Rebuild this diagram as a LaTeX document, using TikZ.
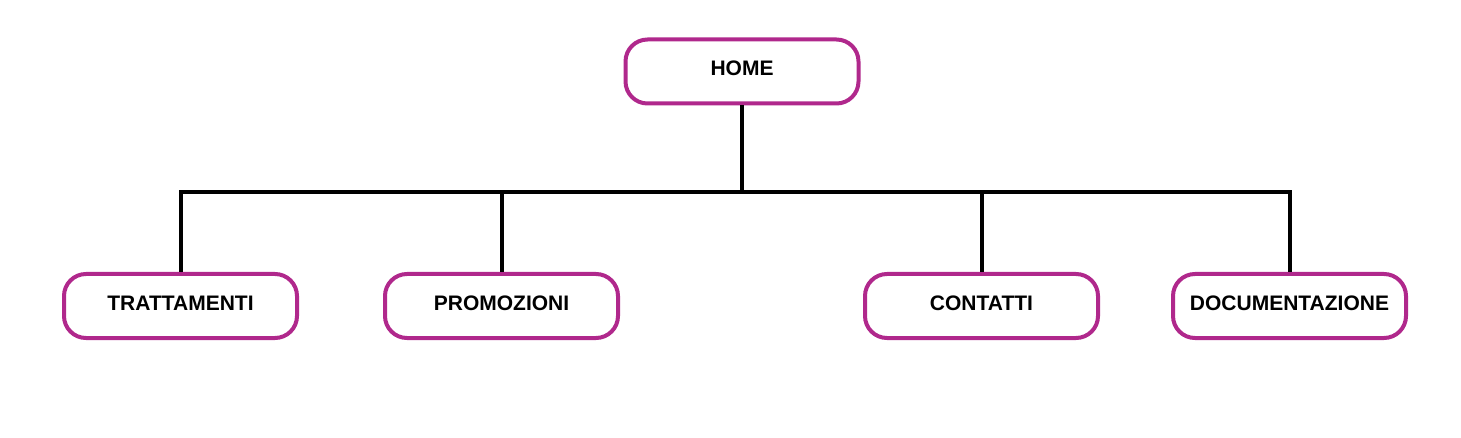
\documentclass[tikz,border=0pt]{standalone}
\usepackage{fontspec}
\setmainfont{Liberation Sans}
\definecolor{pagepink}{RGB}{176,40,140}

\tikzset{
  page/.style={rectangle, rounded corners=22pt, draw=pagepink, line width=4pt,
    fill=white, minimum width=233pt, minimum height=64pt, inner sep=0pt,
    text height=15pt, text depth=7pt,
    font=\fontsize{21}{24}\selectfont\bfseries},
  link/.style={draw=black, line width=4pt}
}

\begin{document}
\begin{tikzpicture}[x=1pt,y=-1pt]

        \useasboundingbox (0,0) rectangle (1461,438);

        \begin{scope}[every node/.style={page}]
          \node (home)  at (742,71.5)   {HOME};
          \node (tratt) at (180.5,306)  {TRATTAMENTI};
          \node (promo) at (501.5,306)  {PROMOZIONI};
          \node (cont)  at (981.5,306)  {CONTATTI};
          \node (doc)   at (1289.5,306) {DOCUMENTAZIONE};
        \end{scope}

        \coordinate (bus) at (742,192);

        \begin{scope}[every path/.style={link}]
          \path (home.south) -- (bus);
          \path (tratt.north) |- (bus);
          \path (promo.north) |- (bus);
          \path (cont.north)  |- (bus);
          \path (doc.north)   |- (bus);
        \end{scope}

      \end{tikzpicture}
\end{document}
